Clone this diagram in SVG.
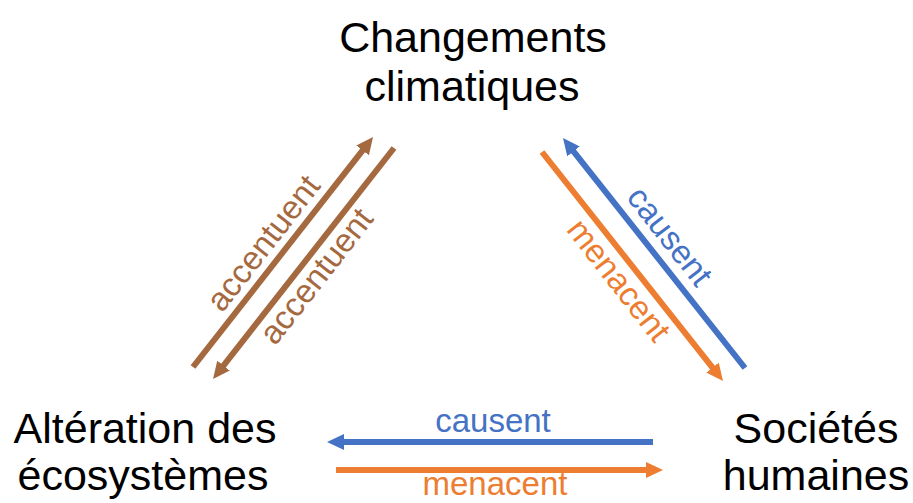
<svg xmlns="http://www.w3.org/2000/svg" width="913" height="503" viewBox="0 0 913 503">
<style>
.node{font-family:"Liberation Sans",Arial,sans-serif;font-size:43px;fill:#000;text-anchor:middle}
.lbl{font-family:"Liberation Sans",Arial,sans-serif;font-size:33px;text-anchor:middle}
.br{stroke:#A5693F;fill:#A5693F}
.bl{stroke:#4472C4;fill:#4472C4}
.or{stroke:#ED7D31;fill:#ED7D31}
line{stroke-width:6;fill:none}
text.br,text.bl,text.or{stroke:none}
</style>
<defs>
<marker id="hBr" markerUnits="userSpaceOnUse" markerWidth="18" markerHeight="16" refX="2" refY="8" orient="auto"><path d="M0,0 L17,8 L0,16 z" fill="#A5693F"/></marker>
<marker id="hBl" markerUnits="userSpaceOnUse" markerWidth="18" markerHeight="16" refX="2" refY="8" orient="auto"><path d="M0,0 L17,8 L0,16 z" fill="#4472C4"/></marker>
<marker id="hOr" markerUnits="userSpaceOnUse" markerWidth="18" markerHeight="16" refX="2" refY="8" orient="auto"><path d="M0,0 L17,8 L0,16 z" fill="#ED7D31"/></marker>
</defs>
<rect width="913" height="503" fill="#fff"/>
<g id="climat">
<text class="node" x="473" y="52">Changements</text>
<text class="node" x="472" y="101">climatiques</text>
</g>
<g id="ecosystemes">
<text class="node" x="145" y="443">Altération des</text>
<text class="node" x="143" y="490">écosystèmes</text>
</g>
<g id="societes">
<text class="node" x="816" y="443">Sociétés</text>
<text class="node" x="816" y="490">humaines</text>
</g>
<g id="connectors">
<line class="br" x1="193" y1="367" x2="363.8" y2="148.8" marker-end="url(#hBr)"/>
<line class="br" x1="394" y1="148" x2="222.3" y2="367.2" marker-end="url(#hBr)"/>
<line class="bl" x1="745" y1="368" x2="572.3" y2="149.8" marker-end="url(#hBl)"/>
<line class="or" x1="542" y1="152" x2="713.7" y2="369.2" marker-end="url(#hOr)"/>
<line class="bl" x1="653" y1="442" x2="342" y2="442" marker-end="url(#hBl)"/>
<line class="or" x1="336" y1="470" x2="648" y2="470" marker-end="url(#hOr)"/>
<text class="lbl br" transform="translate(272,250) rotate(-52)">accentuent</text>
<text class="lbl br" transform="translate(325,283) rotate(-52)">accentuent</text>
<text class="lbl bl" transform="translate(661,243) rotate(52)">causent</text>
<text class="lbl or" transform="translate(610,287) rotate(52)">menacent</text>
<text class="lbl bl" x="493" y="432">causent</text>
<text class="lbl or" x="495" y="495">menacent</text>
</g>
</svg>
